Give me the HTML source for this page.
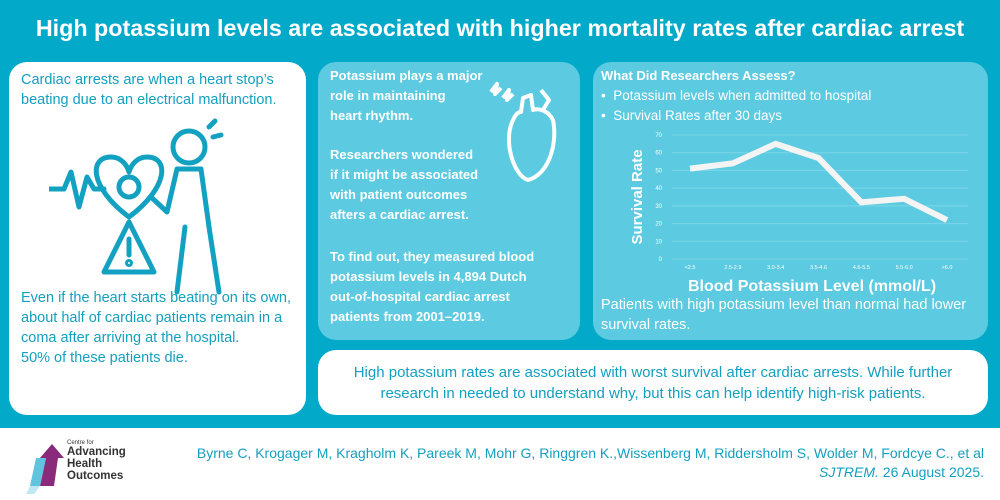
<!DOCTYPE html>
<html><head><meta charset="utf-8"><style>
*{margin:0;padding:0;box-sizing:border-box}
body{width:1000px;height:500px;background:#03a9c9;font-family:"Liberation Sans",sans-serif;position:relative;overflow:hidden}
.abs{position:absolute}
h1{position:absolute;left:0;width:1000px;top:15px;text-align:center;color:#fff;font-size:23.3px;font-weight:bold}
.panel{position:absolute;border-radius:18px}
.white{background:#fff}
.light{background:#5ccae0}
p{font-size:14.5px;line-height:20px}
.mid{color:#fff;font-weight:bold;font-size:13px;line-height:20px;white-space:nowrap}
</style></head><body>
<h1>High potassium levels are associated with higher mortality rates after cardiac arrest</h1>

<div class="panel white" style="left:9px;top:62px;width:297px;height:353px">
 <p class="abs" style="left:12px;top:8px;color:#139fbf;width:282px">Cardiac arrests are when a heart stop’s beating due to an electrical malfunction.</p>
 <svg class="abs" style="left:40px;top:55px" width="200" height="180" fill="none" stroke="#13a1c2" stroke-width="5" stroke-linejoin="round" stroke-linecap="round">
  <polyline points="0,72 15,72 22,55 30,90 38,60 45,72 55,72"/>
  <path d="M80,100 C40,70 40,40 62,40 C72,40 78,48 80,55 C82,48 88,40 98,40 C120,40 120,70 80,100Z"/>
  <circle cx="80" cy="70" r="10"/>
  <path d="M80,105 L55,155 L105,155Z"/><line x1="80" y1="122" x2="80" y2="138"/><circle cx="80" cy="146" r="1.5"/>
  <circle cx="140" cy="30" r="16"/>
  <path d="M128,52 L152,52 L160,110 L170,175 M136,110 L128,175 M128,52 L118,95 L102,80"/>
  <line x1="160" y1="10" x2="166" y2="4"/><line x1="164" y1="20" x2="172" y2="18"/>
 </svg>
 <p class="abs" style="left:12px;top:226px;color:#139fbf;width:275px">Even if the heart starts beating on its own, about half of cardiac patients remain in a coma after arriving at the hospital.<br>50% of these patients die.</p>
</div>

<div class="panel light" style="left:318px;top:62px;width:262px;height:278px">
 <p class="abs mid" style="left:12px;top:4px">Potassium plays a major<br>role in maintaining<br>heart rhythm.</p>
 <svg class="abs" style="left:165px;top:18px" width="80" height="110" fill="none" stroke="#fff" stroke-width="4" stroke-linejoin="round">
  <path d="M8,12 L14,4 L12,14 L18,8 M20,18 L26,10 L24,20 L30,14" />
  <path d="M30,40 C20,60 30,95 45,100 C65,95 75,65 70,40 C65,30 55,28 50,30 L48,15 L40,18 L38,32 C34,32 32,36 30,40Z"/>
  <path d="M58,10 L66,20 L60,30"/>
 </svg>
 <p class="abs mid" style="left:12px;top:83px">Researchers wondered<br>if it might be associated<br>with patient outcomes<br>afters a cardiac arrest.</p>
 <p class="abs mid" style="left:12px;top:185px">To find out, they measured blood<br>potassium levels in 4,894 Dutch<br>out-of-hospital cardiac arrest<br>patients from 2001–2019.</p>
</div>

<div class="panel light" style="left:593px;top:62px;width:395px;height:278px">
 <p class="abs" style="left:8px;top:4px;color:#fff;font-weight:bold;font-size:13px">What Did Researchers Assess?</p>
 <p class="abs" style="left:8px;top:24px;color:#fff;font-size:13.5px;line-height:20px">•&nbsp; Potassium levels when admitted to hospital<br>•&nbsp; Survival Rates after 30 days</p>
 <p class="abs" style="left:8px;top:233px;color:#fff;font-size:14.5px;line-height:20px;width:385px">Patients with high potassium level than normal had lower survival rates.</p>
</div>

<svg id="chart" class="abs" style="left:0;top:0" width="1000" height="500"></svg>

<div class="panel white" style="left:318px;top:350px;width:670px;height:65px">
 <p style="position:absolute;left:0;right:0;top:12px;text-align:center;color:#139fbf;font-size:15px;line-height:21px">High potassium rates are associated with worst survival after cardiac arrests. While further<br>research in needed to understand why, but this can help identify high-risk patients.</p>
</div>

<div class="abs" style="left:0;top:428px;width:1000px;height:72px;background:#fff">
 <svg class="abs" style="left:22px;top:14px" width="44" height="54">
  <polygon points="30,2 42,16 36,16 32,44 18,44 24,16 18,16" fill="#8a2a7a"/>
  <polygon points="14,16 24,16 18,44 8,44" fill="#3ab5d6" opacity="0.8"/>
  <polygon points="8,44 18,44 12,52 4,52" fill="#bfe8f2"/>
 </svg>
 <div class="abs" style="left:67px;top:12px;color:#333;font-size:6px">Centre for</div>
 <div class="abs" style="left:67px;top:18px;color:#333;font-size:11.5px;font-weight:bold;line-height:12px">Advancing<br>Health<br>Outcomes</div>
 <div class="abs" style="right:16px;top:16px;color:#139fbf;font-size:14px;text-align:right;line-height:19px">Byrne C, Krogager M, Kragholm K, Pareek M, Mohr G, Ringgren K.,Wissenberg M, Riddersholm S, Wolder M, Fordcye C., et al<br><i>SJTREM.</i> 26 August 2025.</div>
</div>

<script>
const categories=["<2.5","2.5-2.9","3.0-3.4","3.5-4.6","4.6-5.5","5.5-6.0",">6.0"];
const survival=[51,54,65,57,32,34,22];
const yTicks=[0,10,20,30,40,50,60,70];
const svg=document.getElementById('chart');
const NS='http://www.w3.org/2000/svg';
const x0=672,x1=968,yb=259,yt=135;
function xPos(i){return 690+i*(947-690)/(categories.length-1);}
function yPos(v){return yb-(v/70)*(yb-yt);}
function mk(t,a){const e=document.createElementNS(NS,t);for(const k in a)e.setAttribute(k,a[k]);svg.appendChild(e);return e;}
yTicks.forEach(v=>{
 const g=mk('line',{x1:x0,x2:x1,y1:yPos(v),y2:yPos(v),stroke:'#7dd6e8','stroke-width':1});
 
 
 const t=mk('text',{x:662,y:yPos(v)+2,'font-size':6,fill:'#fff','text-anchor':'end','font-family':'Liberation Sans'});
 t.textContent=v;
 
 
});
categories.forEach((c,i)=>{
 const t=mk('text',{x:xPos(i),y:yb+10,'font-size':5.5,fill:'#fff','text-anchor':'middle','font-family':'Liberation Sans'});
 t.textContent=c;
 
 
});
const line=mk('polyline',{points:survival.map((v,i)=>xPos(i)+','+yPos(v)).join(' '),fill:'none',stroke:'#f4f4f4','stroke-width':6,'stroke-linejoin':'miter'});


const yl=mk('text',{x:0,y:0,transform:'translate(642,197) rotate(-90)','font-size':15,'font-weight':'bold',fill:'#fff','text-anchor':'middle','font-family':'Liberation Sans'});
yl.textContent='Survival Rate';


const xl=mk('text',{x:812,y:291,'font-size':16,'font-weight':'bold',fill:'#fff','text-anchor':'middle','font-family':'Liberation Sans'});
xl.textContent='Blood Potassium Level (mmol/L)';


</script>
</body></html>
